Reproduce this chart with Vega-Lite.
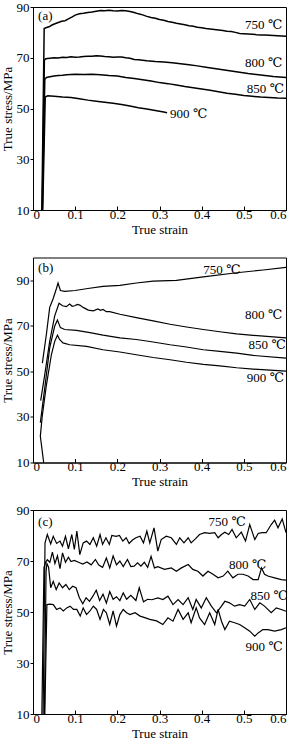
{
  "$schema": "https://vega.github.io/schema/vega-lite/v6.json",
  "padding": 0,
  "background": "white",
  "spacing": 47.5,
  "bounds": "flush",
  "config": {
    "view": {"stroke": "black", "strokeWidth": 1},
    "font": "Liberation Serif, DejaVu Serif, serif",
    "axis": {"grid": false, "domainColor": "black", "tickColor": "black", "labelColor": "black", "titleColor": "black", "labelFont": "Liberation Serif, DejaVu Serif, serif", "titleFont": "Liberation Serif, DejaVu Serif, serif", "labelFontSize": 13, "titleFontSize": 13, "titleFontWeight": "normal"},
    "axisX": {"tickSize": -4, "labelPadding": 2, "titlePadding": 2},
    "axisY": {"tickSize": 3, "labelPadding": 1, "titlePadding": 2},
    "text": {"font": "Liberation Serif, DejaVu Serif, serif", "fontSize": 13, "color": "black"}
  },
  "datasets": {
    "a": [
      {"T":"750","s":0.021,"v":10},{"T":"750","s":0.0265,"v":81.5},{"T":"750","s":0.032,"v":81.9},{"T":"750","s":0.038,"v":82.2},{"T":"750","s":0.045,"v":82.9},{"T":"750","s":0.052,"v":83.4},{"T":"750","s":0.06,"v":83.9},{"T":"750","s":0.068,"v":84.4},{"T":"750","s":0.076,"v":84.6},{"T":"750","s":0.084,"v":85.3},{"T":"750","s":0.092,"v":86.0},{"T":"750","s":0.1,"v":86.8},{"T":"750","s":0.11,"v":87.3},{"T":"750","s":0.12,"v":87.5},{"T":"750","s":0.13,"v":87.8},{"T":"750","s":0.14,"v":88.0},{"T":"750","s":0.15,"v":88.3},{"T":"750","s":0.16,"v":88.6},{"T":"750","s":0.17,"v":88.5},{"T":"750","s":0.18,"v":88.7},{"T":"750","s":0.19,"v":88.5},{"T":"750","s":0.2,"v":88.4},{"T":"750","s":0.21,"v":88.6},{"T":"750","s":0.22,"v":88.5},{"T":"750","s":0.23,"v":88.2},{"T":"750","s":0.24,"v":87.8},{"T":"750","s":0.25,"v":87.3},{"T":"750","s":0.26,"v":86.9},{"T":"750","s":0.27,"v":86.3},{"T":"750","s":0.28,"v":85.9},{"T":"750","s":0.29,"v":85.6},{"T":"750","s":0.3,"v":85.1},{"T":"750","s":0.31,"v":84.8},{"T":"750","s":0.32,"v":84.3},{"T":"750","s":0.33,"v":84.0},{"T":"750","s":0.34,"v":83.6},{"T":"750","s":0.35,"v":83.3},{"T":"750","s":0.36,"v":83.0},{"T":"750","s":0.37,"v":82.6},{"T":"750","s":0.38,"v":82.4},{"T":"750","s":0.39,"v":82.0},{"T":"750","s":0.4,"v":81.8},{"T":"750","s":0.41,"v":81.5},{"T":"750","s":0.42,"v":81.3},{"T":"750","s":0.43,"v":81.1},{"T":"750","s":0.44,"v":80.9},{"T":"750","s":0.45,"v":80.7},{"T":"750","s":0.46,"v":80.4},{"T":"750","s":0.47,"v":80.3},{"T":"750","s":0.48,"v":80.0},{"T":"750","s":0.49,"v":79.6},{"T":"750","s":0.5,"v":79.5},{"T":"750","s":0.51,"v":79.4},{"T":"750","s":0.52,"v":79.3},{"T":"750","s":0.53,"v":79.1},{"T":"750","s":0.54,"v":79.0},{"T":"750","s":0.55,"v":79.0},{"T":"750","s":0.56,"v":78.9},{"T":"750","s":0.57,"v":78.8},{"T":"750","s":0.58,"v":78.7},{"T":"750","s":0.59,"v":78.6},{"T":"750","s":0.6,"v":78.5},
      {"T":"800","s":0.022,"v":10},{"T":"800","s":0.027,"v":69.0},{"T":"800","s":0.03,"v":69.6},{"T":"800","s":0.04,"v":69.8},{"T":"800","s":0.05,"v":70.0},{"T":"800","s":0.06,"v":69.9},{"T":"800","s":0.07,"v":70.2},{"T":"800","s":0.08,"v":70.1},{"T":"800","s":0.09,"v":70.4},{"T":"800","s":0.1,"v":70.2},{"T":"800","s":0.11,"v":70.3},{"T":"800","s":0.12,"v":70.5},{"T":"800","s":0.13,"v":70.6},{"T":"800","s":0.14,"v":70.6},{"T":"800","s":0.15,"v":70.8},{"T":"800","s":0.16,"v":70.7},{"T":"800","s":0.17,"v":70.5},{"T":"800","s":0.18,"v":70.4},{"T":"800","s":0.19,"v":70.2},{"T":"800","s":0.2,"v":70.3},{"T":"800","s":0.21,"v":70.3},{"T":"800","s":0.22,"v":70.0},{"T":"800","s":0.23,"v":69.8},{"T":"800","s":0.24,"v":69.3},{"T":"800","s":0.25,"v":69.2},{"T":"800","s":0.27,"v":68.8},{"T":"800","s":0.29,"v":68.5},{"T":"800","s":0.31,"v":68.3},{"T":"800","s":0.33,"v":68.0},{"T":"800","s":0.35,"v":67.6},{"T":"800","s":0.37,"v":67.2},{"T":"800","s":0.39,"v":66.8},{"T":"800","s":0.41,"v":66.3},{"T":"800","s":0.43,"v":65.8},{"T":"800","s":0.45,"v":65.3},{"T":"800","s":0.47,"v":64.8},{"T":"800","s":0.49,"v":64.3},{"T":"800","s":0.51,"v":63.8},{"T":"800","s":0.53,"v":63.4},{"T":"800","s":0.55,"v":63.0},{"T":"800","s":0.57,"v":62.6},{"T":"800","s":0.6,"v":62.2},
      {"T":"850","s":0.022,"v":10},{"T":"850","s":0.028,"v":61.5},{"T":"850","s":0.032,"v":62.2},{"T":"850","s":0.04,"v":62.5},{"T":"850","s":0.05,"v":62.8},{"T":"850","s":0.06,"v":63.0},{"T":"850","s":0.07,"v":63.1},{"T":"850","s":0.08,"v":63.3},{"T":"850","s":0.09,"v":63.4},{"T":"850","s":0.1,"v":63.5},{"T":"850","s":0.12,"v":63.4},{"T":"850","s":0.14,"v":63.5},{"T":"850","s":0.16,"v":63.3},{"T":"850","s":0.18,"v":63.0},{"T":"850","s":0.2,"v":62.8},{"T":"850","s":0.22,"v":62.2},{"T":"850","s":0.24,"v":61.8},{"T":"850","s":0.26,"v":61.3},{"T":"850","s":0.28,"v":60.8},{"T":"850","s":0.3,"v":60.2},{"T":"850","s":0.32,"v":59.8},{"T":"850","s":0.34,"v":59.3},{"T":"850","s":0.36,"v":58.7},{"T":"850","s":0.38,"v":58.2},{"T":"850","s":0.4,"v":57.7},{"T":"850","s":0.42,"v":57.2},{"T":"850","s":0.44,"v":56.6},{"T":"850","s":0.46,"v":56.0},{"T":"850","s":0.48,"v":55.6},{"T":"850","s":0.5,"v":55.1},{"T":"850","s":0.52,"v":54.8},{"T":"850","s":0.54,"v":54.5},{"T":"850","s":0.56,"v":54.3},{"T":"850","s":0.58,"v":54.1},{"T":"850","s":0.6,"v":54.0},
      {"T":"900","s":0.023,"v":10},{"T":"900","s":0.029,"v":54.5},{"T":"900","s":0.035,"v":55.0},{"T":"900","s":0.05,"v":54.8},{"T":"900","s":0.07,"v":54.5},{"T":"900","s":0.09,"v":54.3},{"T":"900","s":0.11,"v":53.8},{"T":"900","s":0.13,"v":53.3},{"T":"900","s":0.15,"v":52.9},{"T":"900","s":0.17,"v":52.5},{"T":"900","s":0.19,"v":52.1},{"T":"900","s":0.21,"v":51.6},{"T":"900","s":0.23,"v":51.0},{"T":"900","s":0.25,"v":50.3},{"T":"900","s":0.27,"v":49.8},{"T":"900","s":0.29,"v":49.2},{"T":"900","s":0.31,"v":48.6},{"T":"900","s":0.318,"v":48.3}
    ],
    "la": [
      {"label":"(a)","s":0.012,"v":86.4},
      {"label":"750 ℃","s":0.503,"v":83.1},
      {"label":"800 ℃","s":0.503,"v":68.0},
      {"label":"850 ℃","s":0.507,"v":57.6},
      {"label":"900 ℃","s":0.325,"v":47.7}
    ],
    "b": [
      {"T":"750","s":0.0222,"v":53.6},{"T":"750","s":0.0317,"v":66.2},{"T":"750","s":0.0396,"v":78.1},{"T":"750","s":0.0475,"v":81.8},{"T":"750","s":0.0554,"v":86.3},{"T":"750","s":0.0594,"v":88.8},{"T":"750","s":0.065,"v":85.5},{"T":"750","s":0.075,"v":85.1},{"T":"750","s":0.1,"v":85.5},{"T":"750","s":0.13,"v":86.4},{"T":"750","s":0.166,"v":87.3},{"T":"750","s":0.206,"v":87.8},{"T":"750","s":0.245,"v":88.8},{"T":"750","s":0.285,"v":89.6},{"T":"750","s":0.34,"v":90.0},{"T":"750","s":0.372,"v":90.7},{"T":"750","s":0.404,"v":91.5},{"T":"750","s":0.483,"v":93.3},{"T":"750","s":0.546,"v":94.5},{"T":"750","s":0.6,"v":95.7},
      {"T":"800","s":0.0182,"v":37.2},{"T":"800","s":0.0277,"v":48.4},{"T":"800","s":0.0396,"v":63.2},{"T":"800","s":0.0515,"v":74.4},{"T":"800","s":0.0618,"v":79.9},{"T":"800","s":0.07,"v":78.8},{"T":"800","s":0.079,"v":78.4},{"T":"800","s":0.087,"v":79.6},{"T":"800","s":0.093,"v":78.6},{"T":"800","s":0.099,"v":78.8},{"T":"800","s":0.105,"v":79.4},{"T":"800","s":0.111,"v":79.1},{"T":"800","s":0.119,"v":78.1},{"T":"800","s":0.131,"v":76.9},{"T":"800","s":0.143,"v":76.6},{"T":"800","s":0.154,"v":77.4},{"T":"800","s":0.16,"v":76.8},{"T":"800","s":0.166,"v":77.2},{"T":"800","s":0.174,"v":76.2},{"T":"800","s":0.182,"v":76.2},{"T":"800","s":0.206,"v":75.1},{"T":"800","s":0.245,"v":73.6},{"T":"800","s":0.285,"v":72.2},{"T":"800","s":0.325,"v":70.7},{"T":"800","s":0.364,"v":69.5},{"T":"800","s":0.404,"v":68.4},{"T":"800","s":0.443,"v":67.4},{"T":"800","s":0.483,"v":66.5},{"T":"800","s":0.522,"v":65.8},{"T":"800","s":0.6,"v":64.7},
      {"T":"850","s":0.0174,"v":27.5},{"T":"850","s":0.0277,"v":42.4},{"T":"850","s":0.0396,"v":60.3},{"T":"850","s":0.0515,"v":69.9},{"T":"850","s":0.058,"v":72.5},{"T":"850","s":0.065,"v":69.2},{"T":"850","s":0.075,"v":68.4},{"T":"850","s":0.103,"v":68.0},{"T":"850","s":0.135,"v":67.0},{"T":"850","s":0.166,"v":65.9},{"T":"850","s":0.206,"v":64.7},{"T":"850","s":0.245,"v":64.0},{"T":"850","s":0.285,"v":62.9},{"T":"850","s":0.325,"v":61.7},{"T":"850","s":0.364,"v":60.7},{"T":"850","s":0.404,"v":59.5},{"T":"850","s":0.443,"v":58.8},{"T":"850","s":0.483,"v":58.0},{"T":"850","s":0.522,"v":57.0},{"T":"850","s":0.6,"v":55.8},
      {"T":"900","s":0.0253,"v":10},{"T":"900","s":0.0174,"v":21.6},{"T":"900","s":0.022,"v":30.5},{"T":"900","s":0.0317,"v":43.9},{"T":"900","s":0.0436,"v":57.3},{"T":"900","s":0.0515,"v":63.2},{"T":"900","s":0.058,"v":65.9},{"T":"900","s":0.063,"v":64.0},{"T":"900","s":0.071,"v":62.5},{"T":"900","s":0.087,"v":61.7},{"T":"900","s":0.127,"v":61.0},{"T":"900","s":0.166,"v":59.5},{"T":"900","s":0.206,"v":58.5},{"T":"900","s":0.245,"v":57.3},{"T":"900","s":0.285,"v":56.1},{"T":"900","s":0.325,"v":55.1},{"T":"900","s":0.364,"v":54.0},{"T":"900","s":0.404,"v":53.1},{"T":"900","s":0.443,"v":52.4},{"T":"900","s":0.483,"v":51.6},{"T":"900","s":0.522,"v":51.0},{"T":"900","s":0.6,"v":50.1}
    ],
    "lb": [
      {"label":"(b)","s":0.012,"v":95.6},
      {"label":"750 ℃","s":0.404,"v":94.5},
      {"label":"800 ℃","s":0.503,"v":74.8},
      {"label":"850 ℃","s":0.511,"v":61.7},
      {"label":"900 ℃","s":0.507,"v":46.9}
    ],
    "c": [
      {"T":"750","s":0.024,"v":10},{"T":"750","s":0.0285,"v":77.1},{"T":"750","s":0.034,"v":80.4},{"T":"750","s":0.042,"v":76.7},{"T":"750","s":0.048,"v":79.7},{"T":"750","s":0.056,"v":76.9},{"T":"750","s":0.064,"v":77.8},{"T":"750","s":0.07,"v":75.8},{"T":"750","s":0.077,"v":79.7},{"T":"750","s":0.084,"v":74.8},{"T":"750","s":0.092,"v":80.4},{"T":"750","s":0.098,"v":74.5},{"T":"750","s":0.104,"v":81.7},{"T":"750","s":0.111,"v":72.5},{"T":"750","s":0.119,"v":77.1},{"T":"750","s":0.127,"v":77.8},{"T":"750","s":0.135,"v":76.5},{"T":"750","s":0.143,"v":79.1},{"T":"750","s":0.151,"v":75.8},{"T":"750","s":0.159,"v":80.4},{"T":"750","s":0.165,"v":76.5},{"T":"750","s":0.173,"v":79.1},{"T":"750","s":0.181,"v":76.5},{"T":"750","s":0.187,"v":80.0},{"T":"750","s":0.197,"v":79.7},{"T":"750","s":0.205,"v":80.0},{"T":"750","s":0.213,"v":77.8},{"T":"750","s":0.221,"v":79.1},{"T":"750","s":0.228,"v":76.9},{"T":"750","s":0.236,"v":78.2},{"T":"750","s":0.244,"v":79.1},{"T":"750","s":0.254,"v":79.7},{"T":"750","s":0.262,"v":77.1},{"T":"750","s":0.27,"v":81.7},{"T":"750","s":0.277,"v":77.1},{"T":"750","s":0.287,"v":83.0},{"T":"750","s":0.296,"v":73.9},{"T":"750","s":0.304,"v":78.4},{"T":"750","s":0.316,"v":79.7},{"T":"750","s":0.328,"v":79.1},{"T":"750","s":0.34,"v":76.5},{"T":"750","s":0.348,"v":79.1},{"T":"750","s":0.358,"v":77.1},{"T":"750","s":0.368,"v":79.1},{"T":"750","s":0.375,"v":77.1},{"T":"750","s":0.385,"v":78.7},{"T":"750","s":0.395,"v":80.4},{"T":"750","s":0.407,"v":81.1},{"T":"750","s":0.419,"v":80.8},{"T":"750","s":0.431,"v":81.1},{"T":"750","s":0.439,"v":79.1},{"T":"750","s":0.447,"v":80.4},{"T":"750","s":0.455,"v":81.3},{"T":"750","s":0.464,"v":80.4},{"T":"750","s":0.472,"v":82.4},{"T":"750","s":0.482,"v":79.1},{"T":"750","s":0.494,"v":81.3},{"T":"750","s":0.504,"v":77.8},{"T":"750","s":0.514,"v":84.3},{"T":"750","s":0.526,"v":78.4},{"T":"750","s":0.534,"v":80.8},{"T":"750","s":0.543,"v":81.1},{"T":"750","s":0.553,"v":81.1},{"T":"750","s":0.565,"v":84.3},{"T":"750","s":0.573,"v":86.0},{"T":"750","s":0.581,"v":83.0},{"T":"750","s":0.591,"v":86.5},{"T":"750","s":0.6,"v":81.1},
      {"T":"800","s":0.021,"v":10},{"T":"800","s":0.026,"v":67.5},{"T":"800","s":0.03,"v":69.5},{"T":"800","s":0.034,"v":70.5},{"T":"800","s":0.04,"v":69.5},{"T":"800","s":0.046,"v":73.5},{"T":"800","s":0.052,"v":69.0},{"T":"800","s":0.058,"v":72.0},{"T":"800","s":0.064,"v":67.0},{"T":"800","s":0.07,"v":73.2},{"T":"800","s":0.077,"v":69.5},{"T":"800","s":0.084,"v":71.5},{"T":"800","s":0.09,"v":69.8},{"T":"800","s":0.098,"v":70.2},{"T":"800","s":0.108,"v":69.5},{"T":"800","s":0.118,"v":68.8},{"T":"800","s":0.128,"v":69.6},{"T":"800","s":0.138,"v":68.5},{"T":"800","s":0.148,"v":70.6},{"T":"800","s":0.156,"v":68.4},{"T":"800","s":0.165,"v":67.5},{"T":"800","s":0.174,"v":71.2},{"T":"800","s":0.182,"v":67.3},{"T":"800","s":0.19,"v":72.0},{"T":"800","s":0.198,"v":68.5},{"T":"800","s":0.206,"v":70.0},{"T":"800","s":0.214,"v":67.8},{"T":"800","s":0.224,"v":70.6},{"T":"800","s":0.232,"v":67.8},{"T":"800","s":0.24,"v":68.0},{"T":"800","s":0.248,"v":69.3},{"T":"800","s":0.256,"v":68.0},{"T":"800","s":0.264,"v":69.5},{"T":"800","s":0.272,"v":67.5},{"T":"800","s":0.28,"v":71.8},{"T":"800","s":0.288,"v":67.3},{"T":"800","s":0.296,"v":67.8},{"T":"800","s":0.312,"v":66.7},{"T":"800","s":0.328,"v":67.3},{"T":"800","s":0.34,"v":66.0},{"T":"800","s":0.352,"v":67.3},{"T":"800","s":0.368,"v":68.6},{"T":"800","s":0.379,"v":66.7},{"T":"800","s":0.391,"v":66.0},{"T":"800","s":0.403,"v":64.1},{"T":"800","s":0.415,"v":66.0},{"T":"800","s":0.427,"v":64.8},{"T":"800","s":0.439,"v":63.4},{"T":"800","s":0.451,"v":64.1},{"T":"800","s":0.462,"v":66.0},{"T":"800","s":0.474,"v":63.4},{"T":"800","s":0.486,"v":64.8},{"T":"800","s":0.498,"v":64.8},{"T":"800","s":0.51,"v":64.1},{"T":"800","s":0.522,"v":62.7},{"T":"800","s":0.534,"v":62.7},{"T":"800","s":0.542,"v":67.3},{"T":"800","s":0.549,"v":64.8},{"T":"800","s":0.557,"v":64.1},{"T":"800","s":0.573,"v":63.4},{"T":"800","s":0.589,"v":62.7},{"T":"800","s":0.6,"v":62.5},
      {"T":"850","s":0.027,"v":10},{"T":"850","s":0.031,"v":66.0},{"T":"850","s":0.033,"v":69.0},{"T":"850","s":0.037,"v":67.5},{"T":"850","s":0.042,"v":59.5},{"T":"850","s":0.048,"v":62.0},{"T":"850","s":0.055,"v":58.8},{"T":"850","s":0.062,"v":61.4},{"T":"850","s":0.07,"v":59.5},{"T":"850","s":0.078,"v":60.8},{"T":"850","s":0.086,"v":58.8},{"T":"850","s":0.094,"v":60.1},{"T":"850","s":0.102,"v":59.5},{"T":"850","s":0.11,"v":55.6},{"T":"850","s":0.118,"v":53.2},{"T":"850","s":0.126,"v":55.6},{"T":"850","s":0.134,"v":54.2},{"T":"850","s":0.142,"v":56.2},{"T":"850","s":0.15,"v":58.5},{"T":"850","s":0.158,"v":54.5},{"T":"850","s":0.166,"v":57.0},{"T":"850","s":0.174,"v":53.5},{"T":"850","s":0.182,"v":58.0},{"T":"850","s":0.19,"v":55.0},{"T":"850","s":0.198,"v":56.0},{"T":"850","s":0.206,"v":54.5},{"T":"850","s":0.214,"v":57.5},{"T":"850","s":0.222,"v":55.0},{"T":"850","s":0.232,"v":56.5},{"T":"850","s":0.244,"v":54.5},{"T":"850","s":0.252,"v":59.5},{"T":"850","s":0.262,"v":54.0},{"T":"850","s":0.272,"v":55.0},{"T":"850","s":0.282,"v":54.8},{"T":"850","s":0.296,"v":55.5},{"T":"850","s":0.308,"v":54.9},{"T":"850","s":0.32,"v":56.2},{"T":"850","s":0.332,"v":52.9},{"T":"850","s":0.344,"v":54.9},{"T":"850","s":0.356,"v":52.9},{"T":"850","s":0.368,"v":55.6},{"T":"850","s":0.379,"v":51.0},{"T":"850","s":0.387,"v":54.9},{"T":"850","s":0.399,"v":51.6},{"T":"850","s":0.411,"v":55.6},{"T":"850","s":0.423,"v":52.3},{"T":"850","s":0.435,"v":49.7},{"T":"850","s":0.447,"v":52.3},{"T":"850","s":0.455,"v":54.2},{"T":"850","s":0.466,"v":53.6},{"T":"850","s":0.478,"v":52.3},{"T":"850","s":0.49,"v":52.9},{"T":"850","s":0.502,"v":52.3},{"T":"850","s":0.514,"v":54.9},{"T":"850","s":0.526,"v":51.0},{"T":"850","s":0.538,"v":53.6},{"T":"850","s":0.549,"v":52.3},{"T":"850","s":0.565,"v":49.7},{"T":"850","s":0.577,"v":51.6},{"T":"850","s":0.589,"v":51.0},{"T":"850","s":0.6,"v":50.3},
      {"T":"900","s":0.028,"v":10},{"T":"900","s":0.033,"v":52.9},{"T":"900","s":0.04,"v":53.1},{"T":"900","s":0.048,"v":52.9},{"T":"900","s":0.056,"v":51.0},{"T":"900","s":0.064,"v":51.6},{"T":"900","s":0.072,"v":50.4},{"T":"900","s":0.08,"v":51.6},{"T":"900","s":0.088,"v":52.3},{"T":"900","s":0.096,"v":51.0},{"T":"900","s":0.104,"v":51.0},{"T":"900","s":0.112,"v":48.4},{"T":"900","s":0.119,"v":51.6},{"T":"900","s":0.127,"v":49.0},{"T":"900","s":0.135,"v":50.4},{"T":"900","s":0.143,"v":52.3},{"T":"900","s":0.151,"v":51.0},{"T":"900","s":0.159,"v":47.1},{"T":"900","s":0.167,"v":51.0},{"T":"900","s":0.174,"v":49.7},{"T":"900","s":0.182,"v":45.1},{"T":"900","s":0.19,"v":50.4},{"T":"900","s":0.198,"v":44.5},{"T":"900","s":0.206,"v":49.0},{"T":"900","s":0.214,"v":51.0},{"T":"900","s":0.222,"v":49.7},{"T":"900","s":0.23,"v":49.0},{"T":"900","s":0.242,"v":49.7},{"T":"900","s":0.254,"v":48.4},{"T":"900","s":0.265,"v":47.8},{"T":"900","s":0.277,"v":47.1},{"T":"900","s":0.293,"v":46.5},{"T":"900","s":0.308,"v":45.1},{"T":"900","s":0.32,"v":47.7},{"T":"900","s":0.332,"v":46.4},{"T":"900","s":0.344,"v":51.0},{"T":"900","s":0.356,"v":47.1},{"T":"900","s":0.368,"v":49.7},{"T":"900","s":0.375,"v":45.8},{"T":"900","s":0.387,"v":51.6},{"T":"900","s":0.395,"v":47.7},{"T":"900","s":0.407,"v":45.1},{"T":"900","s":0.419,"v":49.7},{"T":"900","s":0.431,"v":45.1},{"T":"900","s":0.439,"v":51.0},{"T":"900","s":0.447,"v":46.4},{"T":"900","s":0.455,"v":43.1},{"T":"900","s":0.466,"v":46.4},{"T":"900","s":0.478,"v":45.8},{"T":"900","s":0.49,"v":45.1},{"T":"900","s":0.502,"v":43.8},{"T":"900","s":0.514,"v":42.5},{"T":"900","s":0.526,"v":40.5},{"T":"900","s":0.534,"v":41.8},{"T":"900","s":0.545,"v":43.1},{"T":"900","s":0.557,"v":43.1},{"T":"900","s":0.573,"v":42.5},{"T":"900","s":0.589,"v":43.1},{"T":"900","s":0.6,"v":43.8}
    ],
    "lc": [
      {"label":"(c)","s":0.012,"v":85.3},
      {"label":"750 ℃","s":0.416,"v":85.3},
      {"label":"800 ℃","s":0.465,"v":68.3},
      {"label":"850 ℃","s":0.516,"v":56.1},
      {"label":"900 ℃","s":0.504,"v":36.4}
    ]
  },
  "vconcat": [
    {
      "width": 253, "height": 203,
      "layer": [
        {"data": {"name": "a"}, "mark": {"type": "line", "color": "black", "strokeWidth": 1.5},
         "encoding": {
           "x": {"field": "s", "type": "quantitative", "scale": {"domain": [0, 0.6]}, "axis": {"values": [0, 0.1, 0.2, 0.3, 0.4, 0.5, 0.6], "format": "~g", "title": "True strain"}},
           "y": {"field": "v", "type": "quantitative", "scale": {"domain": [10, 90]}, "axis": {"values": [10, 30, 50, 70, 90], "title": "True stress/MPa"}},
           "detail": {"field": "T"},
           "order": {"value": null}}},
        {"data": {"name": "la"}, "mark": {"type": "text", "align": "left", "baseline": "middle"},
         "encoding": {"x": {"field": "s", "type": "quantitative"}, "y": {"field": "v", "type": "quantitative"}, "text": {"field": "label"}}}
      ]
    },
    {
      "width": 253, "height": 205,
      "layer": [
        {"data": {"name": "b"}, "mark": {"type": "line", "color": "black", "strokeWidth": 1.2},
         "encoding": {
           "x": {"field": "s", "type": "quantitative", "scale": {"domain": [0, 0.6]}, "axis": {"values": [0, 0.1, 0.2, 0.3, 0.4, 0.5, 0.6], "format": "~g", "title": "True strain"}},
           "y": {"field": "v", "type": "quantitative", "scale": {"domain": [10, 100]}, "axis": {"values": [10, 30, 50, 70, 90], "title": "True stress/MPa"}},
           "detail": {"field": "T"},
           "order": {"value": null}}},
        {"data": {"name": "lb"}, "mark": {"type": "text", "align": "left", "baseline": "middle"},
         "encoding": {"x": {"field": "s", "type": "quantitative"}, "y": {"field": "v", "type": "quantitative"}, "text": {"field": "label"}}}
      ]
    },
    {
      "width": 253, "height": 204,
      "layer": [
        {"data": {"name": "c"}, "mark": {"type": "line", "color": "black", "strokeWidth": 1.2},
         "encoding": {
           "x": {"field": "s", "type": "quantitative", "scale": {"domain": [0, 0.6]}, "axis": {"values": [0, 0.1, 0.2, 0.3, 0.4, 0.5, 0.6], "format": "~g", "title": "True strain"}},
           "y": {"field": "v", "type": "quantitative", "scale": {"domain": [10, 90]}, "axis": {"values": [10, 30, 50, 70, 90], "title": "True stress/MPa"}},
           "detail": {"field": "T"},
           "order": {"value": null}}},
        {"data": {"name": "lc"}, "mark": {"type": "text", "align": "left", "baseline": "middle"},
         "encoding": {"x": {"field": "s", "type": "quantitative"}, "y": {"field": "v", "type": "quantitative"}, "text": {"field": "label"}}}
      ]
    }
  ]
}
